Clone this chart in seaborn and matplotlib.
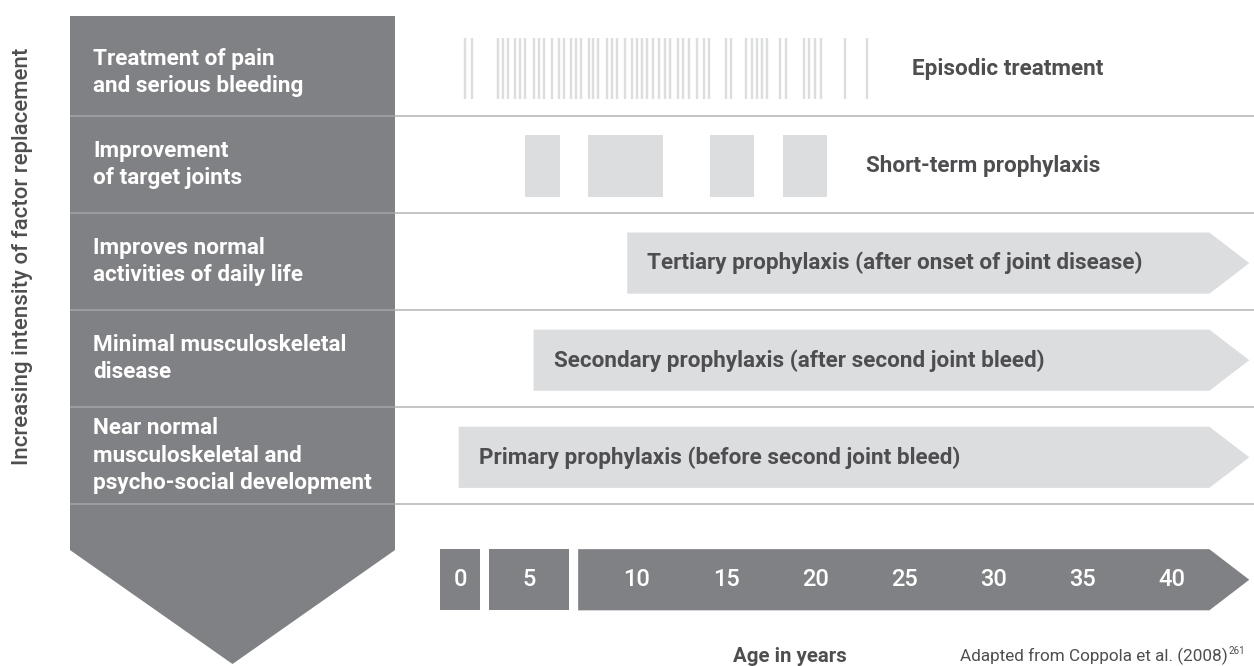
import numpy as np
import seaborn as sns
from matplotlib import pyplot as plt
from matplotlib.patches import Polygon

sns.set_theme(style='white')
plt.rcParams['font.family'] = ['Roboto', 'DejaVu Sans']

# Goal of each regimen, top (least intensive) to bottom (most intensive)
goals = ['Treatment of pain\nand serious bleeding',
         'Improvement\nof target joints',
         'Improves normal\nactivities of daily life',
         'Minimal musculoskeletal\ndisease',
         'Near normal\nmusculoskeletal and\npsycho-social development']
regimens = ['Episodic treatment',
            'Short-term prophylaxis',
            'Tertiary prophylaxis (after onset of joint disease)',
            'Secondary prophylaxis (after second joint bleed)',
            'Primary prophylaxis (before second joint bleed)']

# Episodic doses (age in years)
episodic_ages = [0.35, 0.75, 2.20, 2.48, 2.77, 3.16, 3.44, 3.72, 4.22, 4.50,
                 4.78, 5.23, 5.63, 5.91, 6.30, 6.58, 6.86, 7.31, 7.53, 7.81,
                 8.32, 8.60, 8.88, 9.33, 9.72, 10.00, 10.28, 10.56, 10.90, 11.23,
                 11.57, 11.85, 12.30, 12.58, 12.92, 13.37, 13.76, 14.04, 14.99, 15.27,
                 16.11, 16.45, 16.73, 17.01, 17.29, 18.02, 18.36, 19.37, 19.65, 19.98,
                 20.32, 21.67, 22.90]
# Short-term prophylaxis courses (years)
short_start = [3.70, 7.25, 14.10, 18.20]
short_end = [5.70, 11.45, 16.55, 20.65]
# Continuous prophylaxis: tertiary, secondary, primary start age
prophylaxis_start = [9.45, 4.20, 0.0]
scale_end = 42.1
# where the labels of the first two rows sit (years)
label_age = [25.4, 22.85]

# Age scale
age_ticks = [0, 5, 10, 15, 20, 25, 30, 35, 40]
seg_start = [-1.05, 1.70, 6.70]
seg_end = [1.20, 6.20, 42.1]

DARK = '#808185'
LIGHT = '#dcdddf'
RULE = '#b3b4b6'
PANEL_RULE = '#a4a5a8'
TEXT = '#4e4e50'

px_per_year = 17.83
x0_px = 458.7
row_px = 97.1
top_px = 18.9
W, H = 1254, 666

fig = plt.figure(figsize=(12.54, 6.66), dpi=100)
ylim = ((H - top_px) / row_px, -top_px / row_px)

# ---- left intensity arrow panel
axl = fig.add_axes([70 / W, 0, 325 / W, 1])
axl.set_xlim(0, 1)
axl.set_ylim(*ylim)
axl.axis('off')
panel_top, panel_bottom, panel_tip = -0.03, 5.47, 6.644
axl.add_patch(Polygon([(0, panel_top), (1, panel_top), (1, panel_bottom),
                       (0.5, panel_tip), (0, panel_bottom)],
                      closed=True, facecolor=DARK, edgecolor='none'))
for k in range(1, len(goals) + 1):
    axl.axhline(k, color=PANEL_RULE, lw=1.1)
for i, g in enumerate(goals):
    axl.text(0.071, i + (0.55 if i == 0 else 0.5), g, color='white',
             fontsize=16.2, fontweight='bold', va='center', ha='left',
             linespacing=1.32)

fig.text(23 / W, 1 - 256 / H, 'Increasing intensity of factor replacement',
         rotation=90, ha='center', va='center', fontsize=16, color=TEXT,
         fontweight='medium')

# ---- main chart in years
ax = fig.add_axes([395 / W, 0, (W - 395) / W, 1])
ax.set_xlim((395 - x0_px) / px_per_year, (W - x0_px) / px_per_year)
ax.set_ylim(*ylim)
ax.axis('off')

for k in range(1, len(goals) + 1):
    ax.axhline(k, color=RULE, lw=1.1)

bar_h = 0.63
tip = 2.24


def arrow(x0, x1, yc, color):
    pts = [(x0, yc - bar_h / 2), (x1, yc - bar_h / 2), (x1 + tip, yc),
           (x1, yc + bar_h / 2), (x0, yc + bar_h / 2)]
    ax.add_patch(Polygon(pts, closed=True, facecolor=color, edgecolor='none'))


yc = [i + 0.515 for i in range(len(regimens))]

# episodic treatment
ax.vlines(episodic_ages, yc[0] - bar_h / 2, yc[0] + bar_h / 2, color=LIGHT, lw=1.7)
# short-term prophylaxis
ax.barh([yc[1]] * len(short_start), np.subtract(short_end, short_start),
        left=short_start, height=bar_h, color=LIGHT, edgecolor='none')
for i, lab in enumerate(regimens[:2]):
    ax.text(label_age[i], yc[i], lab, color=TEXT, fontsize=16.2, fontweight='bold',
            va='center', ha='left')

# continuous prophylaxis arrows
for j, start in enumerate(prophylaxis_start):
    row = j + 2
    arrow(start, scale_end, yc[row], LIGHT)
    ax.annotate(regimens[row], xy=(start, yc[row]), xytext=(14.5, 0),
                textcoords='offset points', color=TEXT, fontsize=16.2,
                fontweight='bold', va='center', ha='left')

# age scale
age_y = 5.776
for s, e in zip(seg_start[:-1], seg_end[:-1]):
    ax.barh(age_y, e - s, left=s, height=bar_h, color=DARK, edgecolor='none')
arrow(seg_start[-1], seg_end[-1], age_y, DARK)
for a in age_ticks:
    x = a
    for s, e in zip(seg_start[:-1], seg_end[:-1]):
        if s <= a <= e:
            x = (s + e) / 2
    ax.text(x, age_y, str(a), color='white', fontsize=17, fontweight='medium',
            ha='center', va='center')

ax.text(18.58, 6.57, 'Age in years', color=TEXT, fontsize=14.7,
        fontweight='bold', ha='center', va='center')
src = ax.text(28.11, 6.57, 'Adapted from Coppola et al. (2008)', color=TEXT,
              fontsize=12.3, ha='left', va='center')
ax.annotate('261', xy=(1, 0.85), xycoords=src, xytext=(0.5, 0),
            textcoords='offset points', fontsize=7, color=TEXT,
            ha='left', va='center')

fig.savefig('out.png', dpi=100)
